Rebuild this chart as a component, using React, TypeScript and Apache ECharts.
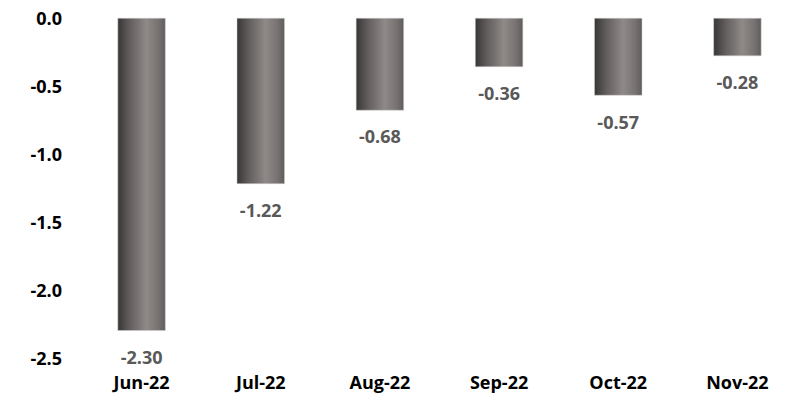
import React, { useEffect, useRef } from "react";
import * as echarts from "echarts";

const categories = ["Jun-22", "Jul-22", "Aug-22", "Sep-22", "Oct-22", "Nov-22"];
const values = [-2.3, -1.22, -0.68, -0.36, -0.57, -0.28];
const yTicks = { min: -2.5, max: 0, interval: 0.5 };

export default function App() {
  const ref = useRef<HTMLDivElement>(null);
  useEffect(() => {
    if (!ref.current) return;
    const chart = echarts.init(ref.current, null, { renderer: "svg" });
    const font = "'Open Sans', Lato, sans-serif";
    chart.setOption({
      animation: false,
      grid: { left: 82, top: 18, bottom: 36, width: 727 },
      xAxis: {
        type: "category",
        data: categories,
        position: "bottom",
        axisLine: { show: false },
        axisTick: { show: false },
        axisLabel: {
          margin: 15,
          color: "#000",
          fontWeight: "bold",
          fontSize: 18,
          fontFamily: font,
        },
      },
      yAxis: {
        type: "value",
        min: yTicks.min,
        max: yTicks.max,
        interval: yTicks.interval,
        splitLine: { show: false },
        axisLine: { show: false },
        axisTick: { show: false },
        axisLabel: {
          margin: 20,
          color: "#000",
          fontWeight: "bold",
          fontSize: 18,
          fontFamily: font,
          formatter: (v: number) => v.toFixed(1),
        },
      },
      series: [
        {
          type: "bar",
          data: values,
          barWidth: 48,
          itemStyle: {
            color: {
              type: "linear",
              x: 0,
              y: 0,
              x2: 1,
              y2: 0,
              colorStops: [
                { offset: 0, color: "#383636" },
                { offset: 0.25, color: "#625e5d" },
                { offset: 0.6, color: "#8f8988" },
                { offset: 0.85, color: "#787372" },
                { offset: 1, color: "#605c5c" },
              ],
            },
            borderColor: "#d0cece",
            borderWidth: 0.5,
          },
          label: {
            show: true,
            position: "bottom",
            distance: 17,
            color: "#595959",
            fontWeight: "bold",
            fontSize: 18,
            fontFamily: font,
            formatter: (p: any) => p.value.toFixed(2),
          },
        },
      ],
    });
    return () => chart.dispose();
  }, []);
  return <div ref={ref} style={{ width: 797, height: 394, position: "absolute", left: 0, top: 0 }} />;
}
